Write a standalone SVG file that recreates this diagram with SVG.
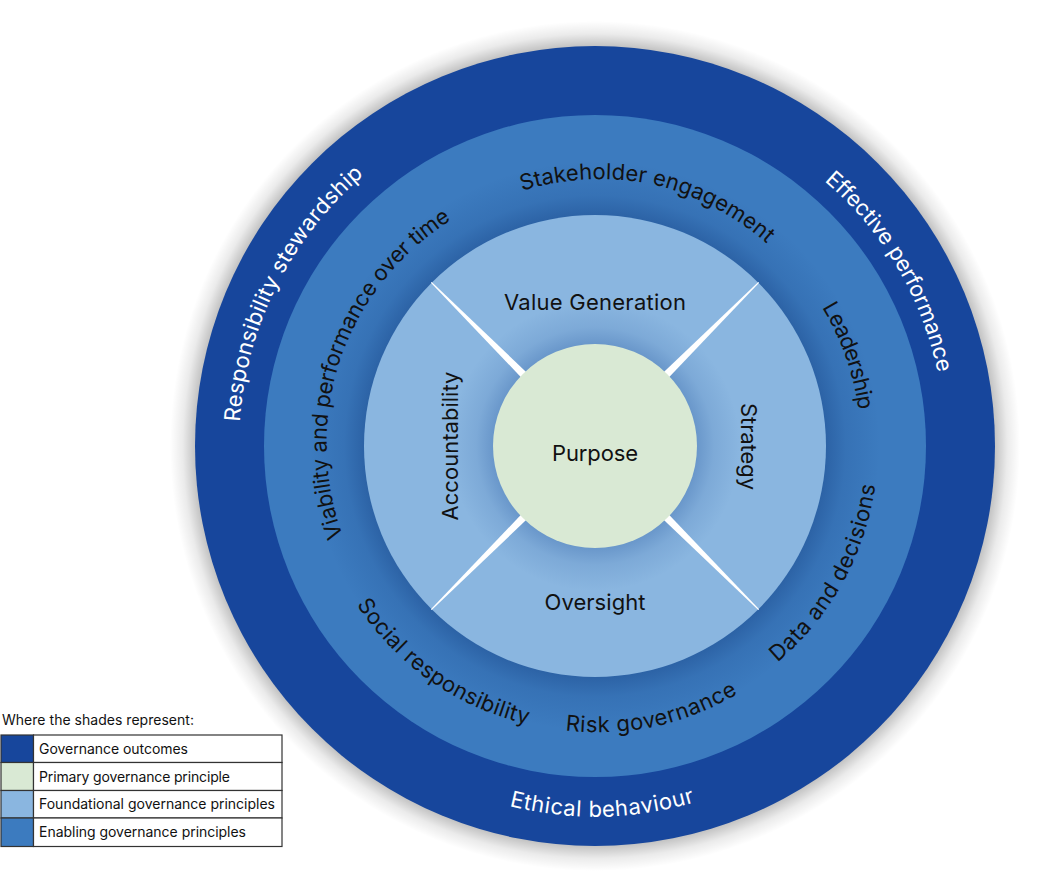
<svg xmlns="http://www.w3.org/2000/svg" xmlns:xlink="http://www.w3.org/1999/xlink" width="1041" height="892" viewBox="0 0 1041 892">
  <style>
    .lbl { font-family: Inter, "Open Sans", "Liberation Sans", sans-serif; font-size: 22px; fill: #111; }
    .wlbl { font-family: Inter, "Open Sans", "Liberation Sans", sans-serif; font-size: 22px; fill: #ffffff; }
    .leg { font-family: Inter, "Open Sans", "Liberation Sans", sans-serif; font-size: 14px; fill: #111; }
    .cell { stroke: #333; stroke-width: 1.2; }
  </style>
  <defs>
    <radialGradient id="outerShadow" gradientUnits="userSpaceOnUse" cx="595" cy="446" r="425">
      <stop offset="0.92" stop-color="#000" stop-opacity="0.35"/>
      <stop offset="0.97" stop-color="#000" stop-opacity="0.08"/>
      <stop offset="1" stop-color="#000" stop-opacity="0"/>
    </radialGradient>
    <radialGradient id="fShadow" gradientUnits="userSpaceOnUse" cx="595" cy="446" r="285">
      <stop offset="0.80" stop-color="#0b2f70" stop-opacity="0.35"/>
      <stop offset="0.88" stop-color="#0b2f70" stop-opacity="0.12"/>
      <stop offset="1" stop-color="#0b2f70" stop-opacity="0"/>
    </radialGradient>
    <radialGradient id="pShadow" gradientUnits="userSpaceOnUse" cx="595" cy="446" r="145">
      <stop offset="0.69" stop-color="#1e4f98" stop-opacity="0.32"/>
      <stop offset="0.82" stop-color="#1e4f98" stop-opacity="0.12"/>
      <stop offset="1" stop-color="#1e4f98" stop-opacity="0"/>
    </radialGradient>
    <polygon id="wedge" points="591.3,346 598.7,346 595.6,214.5 594.4,214.5" fill="#ffffff"/>
    <!-- clockwise paths (tops outward) -->
    <path id="pStake" d="M538.4,707.9 A268,268 0 0 1 651.6,184.1 A268,268 0 0 1 538.4,707.9"/>
    <path id="pViab" d="M849.5,533.1 A269,269 0 0 1 340.5,358.9 A269,269 0 0 1 849.5,533.1"/>
    <path id="pLead" d="M344.4,535.2 A266,266 0 0 1 845.6,356.8 A266,266 0 0 1 344.4,535.2"/>
    <path id="pResp" d="M913.1,606.0 A356,356 0 0 1 276.9,286.0 A356,356 0 0 1 913.1,606.0"/>
    <path id="pEff" d="M292.9,624.7 A351,351 0 0 1 897.1,267.3 A351,351 0 0 1 292.9,624.7"/>
    <!-- counter-clockwise paths (tops inward) -->
    <path id="pSoc" d="M759.6,210.9 A287,287 0 0 0 430.4,681.1 A287,287 0 0 0 759.6,210.9"/>
    <path id="pRisk" d="M535.3,165.3 A287,287 0 0 0 654.7,726.7 A287,287 0 0 0 535.3,165.3"/>
    <path id="pData" d="M347.2,309.2 A283,283 0 0 0 842.8,582.8 A283,283 0 0 0 347.2,309.2"/>
    <path id="pEth" d="M587.6,75.1 A371,371 0 0 0 602.4,816.9 A371,371 0 0 0 587.6,75.1"/>
  </defs>

  <rect x="0" y="0" width="1041" height="892" fill="#ffffff"/>

  <g id="governance-outcomes">
    <circle cx="595" cy="446" r="425" fill="url(#outerShadow)"/>
    <circle cx="595" cy="446" r="400" fill="#17469c"/>
    <text class="wlbl"><textPath href="#pResp" xlink:href="#pResp" startOffset="50%" text-anchor="middle" textLength="284">Responsibility stewardship</textPath></text>
    <text class="wlbl"><textPath href="#pEff" xlink:href="#pEff" startOffset="50%" text-anchor="middle" textLength="227">Effective performance</textPath></text>
    <text class="wlbl"><textPath href="#pEth" xlink:href="#pEth" startOffset="50%" text-anchor="middle" textLength="188">Ethical behaviour</textPath></text>
  </g>

  <g id="enabling-principles">
    <circle cx="595" cy="446" r="331" fill="#3c7bbf"/>
    <circle cx="595" cy="446" r="285" fill="url(#fShadow)"/>
    <text class="lbl"><textPath href="#pStake" xlink:href="#pStake" startOffset="50%" text-anchor="middle" textLength="262">Stakeholder engagement</textPath></text>
    <text class="lbl"><textPath href="#pViab" xlink:href="#pViab" startOffset="50%" text-anchor="middle" textLength="362">Viability and performance over time</textPath></text>
    <text class="lbl"><textPath href="#pLead" xlink:href="#pLead" startOffset="50%" text-anchor="middle" textLength="110">Leadership</textPath></text>
    <text class="lbl"><textPath href="#pSoc" xlink:href="#pSoc" startOffset="50%" text-anchor="middle" textLength="214">Social responsibility</textPath></text>
    <text class="lbl"><textPath href="#pRisk" xlink:href="#pRisk" startOffset="50%" text-anchor="middle" textLength="180">Risk governance</textPath></text>
    <text class="lbl"><textPath href="#pData" xlink:href="#pData" startOffset="50%" text-anchor="middle" textLength="207">Data and decisions</textPath></text>
  </g>

  <g id="foundational-principles">
    <circle cx="595" cy="446" r="231" fill="#8ab6e0"/>
    <circle cx="595" cy="446" r="145" fill="url(#pShadow)"/>
    <text class="lbl" x="595" y="310" text-anchor="middle" textLength="182">Value Generation</text>
    <text class="lbl" x="595" y="610" text-anchor="middle" textLength="101">Oversight</text>
    <text class="lbl" transform="translate(458,446) rotate(-90)" x="0" y="0" text-anchor="middle" textLength="149">Accountability</text>
    <text class="lbl" transform="translate(741,446.5) rotate(90)" x="0" y="0" text-anchor="middle" textLength="87">Strategy</text>
  </g>

  <g id="separators">
    <use href="#wedge" xlink:href="#wedge" transform="rotate(-45 595 446)"/>
    <use href="#wedge" xlink:href="#wedge" transform="rotate(45 595 446)"/>
    <use href="#wedge" xlink:href="#wedge" transform="rotate(135 595 446)"/>
    <use href="#wedge" xlink:href="#wedge" transform="rotate(225 595 446)"/>
  </g>

  <g id="purpose">
    <circle cx="595" cy="446" r="102" fill="#d9e9d4"/>
    <text class="lbl" x="595" y="461" text-anchor="middle" textLength="86">Purpose</text>
  </g>

  <g id="legend">
    <text class="leg" x="2" y="725" textLength="192">Where the shades represent:</text>
    <rect class="cell" x="1" y="735" width="32.5" height="27.5" fill="#17469c"/>
    <rect class="cell" x="33.5" y="735" width="248.5" height="27.5" fill="#ffffff"/>
    <rect class="cell" x="1" y="762.5" width="32.5" height="28" fill="#d9e9d4"/>
    <rect class="cell" x="33.5" y="762.5" width="248.5" height="28" fill="#ffffff"/>
    <rect class="cell" x="1" y="790.5" width="32.5" height="27.5" fill="#8ab6e0"/>
    <rect class="cell" x="33.5" y="790.5" width="248.5" height="27.5" fill="#ffffff"/>
    <rect class="cell" x="1" y="818" width="32.5" height="28.5" fill="#3c7bbf"/>
    <rect class="cell" x="33.5" y="818" width="248.5" height="28.5" fill="#ffffff"/>
    <text class="leg" x="39" y="753.5" textLength="149">Governance outcomes</text>
    <text class="leg" x="39" y="781.5" textLength="191">Primary governance principle</text>
    <text class="leg" x="39" y="809" textLength="236">Foundational governance principles</text>
    <text class="leg" x="39" y="836.5" textLength="207">Enabling governance principles</text>
  </g>
</svg>
